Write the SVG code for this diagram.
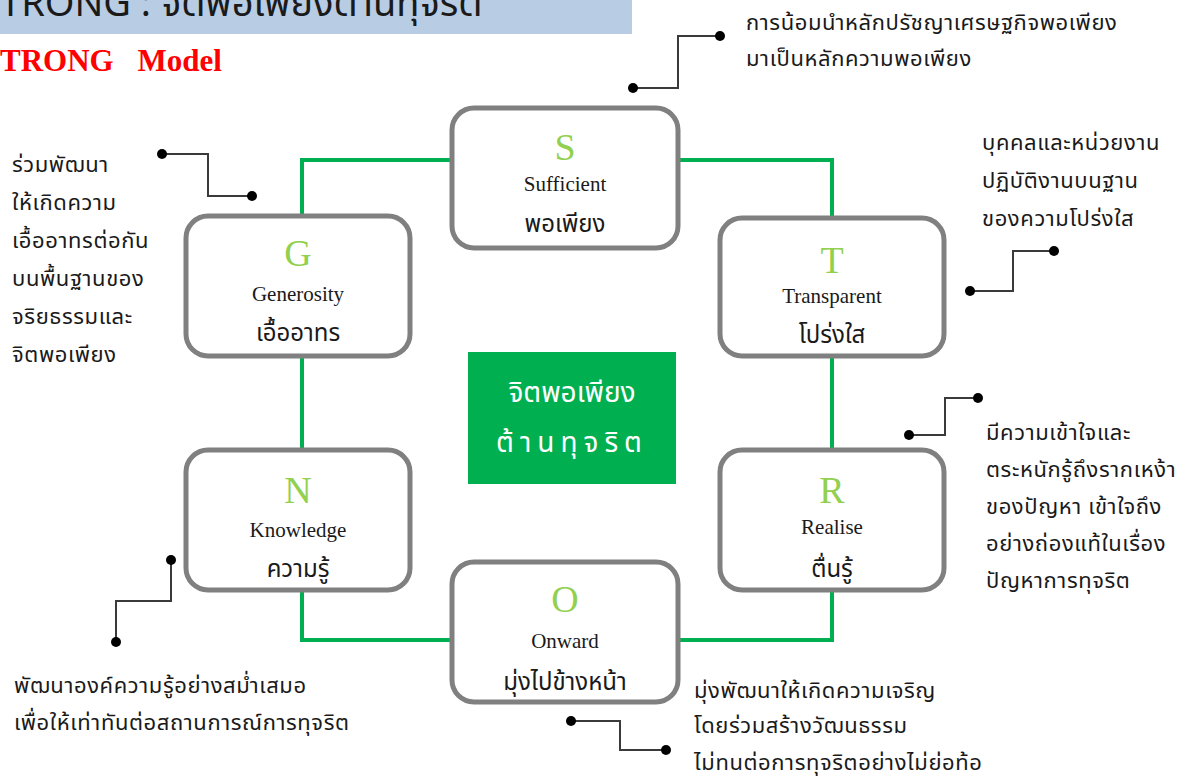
<svg xmlns="http://www.w3.org/2000/svg" width="1192" height="778" viewBox="0 0 1192 778">
<style>
.box{fill:#fff;stroke:#808080;stroke-width:5}
.let{font-family:"Liberation Serif","DejaVu Serif",serif;font-size:38px;fill:#92D050;text-anchor:middle}
.en{font-family:"Liberation Serif","DejaVu Serif",serif;font-size:21px;fill:#1a1a1a;text-anchor:middle}
.th{font-family:"Noto Sans Thai","Noto Sans","DejaVu Sans",sans-serif;font-size:24px;fill:#1a1a1a;text-anchor:middle}
.note{font-family:"Noto Sans Thai","Noto Sans","DejaVu Sans",sans-serif;font-size:22px;letter-spacing:0.6px;fill:#1a1a1a}
.lead{fill:none;stroke:#3a3a3a;stroke-width:2}
.dot{fill:#000}
</style>
<rect x="0" y="0" width="1192" height="778" fill="#fff"/>
<g id="title">
<rect x="0" y="0" width="632" height="34" fill="#B8CCE4"/>
<text x="0" y="16" font-family="Noto Sans Thai, Noto Sans, DejaVu Sans, sans-serif" font-size="38" fill="#1a1a1a">TRONG : จิตพอเพียงต้านทุจริต</text>
<text x="0" y="71" font-family="Liberation Serif, serif" font-size="31" font-weight="bold" fill="#FF0000" word-spacing="16">TRONG Model</text>
</g>
<g id="connectors">
<rect x="302" y="160" width="530" height="480" fill="none" stroke="#00B050" stroke-width="4"/>
<polyline class="lead" points="633,88 678,88 678,36 720,36"/>
<circle class="dot" cx="633" cy="88" r="5"/><circle class="dot" cx="720" cy="36" r="5"/>
<polyline class="lead" points="162,154 208,154 208,196 252,196"/>
<circle class="dot" cx="162" cy="154" r="5"/><circle class="dot" cx="252" cy="196" r="5"/>
<polyline class="lead" points="1054,251 1013,251 1013,291 970,291"/>
<circle class="dot" cx="1054" cy="251" r="5"/><circle class="dot" cx="970" cy="291" r="5"/>
<polyline class="lead" points="978,398 945,398 945,435 909,435"/>
<circle class="dot" cx="978" cy="398" r="5"/><circle class="dot" cx="909" cy="435" r="5"/>
<polyline class="lead" points="171,560 171,601 116,601 116,642"/>
<circle class="dot" cx="171" cy="560" r="5"/><circle class="dot" cx="116" cy="642" r="5"/>
<polyline class="lead" points="571,721 620,721 620,750 666,750"/>
<circle class="dot" cx="571" cy="721" r="5"/><circle class="dot" cx="666" cy="750" r="5"/>
</g>
<g id="center">
<rect x="468" y="352" width="208" height="132" fill="#00B050"/>
<text x="572" y="402" font-family="Noto Sans Thai, Noto Sans, DejaVu Sans, sans-serif" font-size="28" fill="#fff" text-anchor="middle">จิตพอเพียง</text>
<text x="572" y="452" font-family="Noto Sans Thai, Noto Sans, DejaVu Sans, sans-serif" font-size="28" fill="#fff" text-anchor="middle" letter-spacing="6">ต้านทุจริต</text>
</g>
<g id="node-S">
<rect class="box" x="452" y="108" width="226" height="140" rx="22"/>
<text class="let" x="565" y="160">S</text>
<text class="en" x="565" y="191">Sufficient</text>
<text class="th" x="565" y="232">พอเพียง</text>
</g>
<g id="node-G">
<rect class="box" x="186" y="216" width="224" height="140" rx="22"/>
<text class="let" x="298" y="266">G</text>
<text class="en" x="298" y="301">Generosity</text>
<text class="th" x="298" y="341">เอื้ออาทร</text>
</g>
<g id="node-T">
<rect class="box" x="720" y="218" width="224" height="138" rx="22"/>
<text class="let" x="832" y="273">T</text>
<text class="en" x="832" y="303">Transparent</text>
<text class="th" x="832" y="343">โปร่งใส</text>
</g>
<g id="node-N">
<rect class="box" x="186" y="450" width="224" height="140" rx="22"/>
<text class="let" x="298" y="503">N</text>
<text class="en" x="298" y="537">Knowledge</text>
<text class="th" x="298" y="577">ความรู้</text>
</g>
<g id="node-R">
<rect class="box" x="720" y="450" width="224" height="140" rx="22"/>
<text class="let" x="832" y="503">R</text>
<text class="en" x="832" y="534">Realise</text>
<text class="th" x="832" y="577">ตื่นรู้</text>
</g>
<g id="node-O">
<rect class="box" x="452" y="562" width="226" height="140" rx="22"/>
<text class="let" x="565" y="612">O</text>
<text class="en" x="565" y="648">Onward</text>
<text class="th" x="565" y="690">มุ่งไปข้างหน้า</text>
</g>
<g id="notes">
<text class="note" x="746" y="30">การน้อมนำหลักปรัชญาเศรษฐกิจพอเพียง</text>
<text class="note" x="746" y="66">มาเป็นหลักความพอเพียง</text>
<text class="note" x="12" y="172">ร่วมพัฒนา</text>
<text class="note" x="12" y="210">ให้เกิดความ</text>
<text class="note" x="12" y="248">เอื้ออาทรต่อกัน</text>
<text class="note" x="12" y="286">บนพื้นฐานของ</text>
<text class="note" x="12" y="324">จริยธรรมและ</text>
<text class="note" x="12" y="362">จิตพอเพียง</text>
<text class="note" x="982" y="150">บุคคลและหน่วยงาน</text>
<text class="note" x="982" y="188">ปฏิบัติงานบนฐาน</text>
<text class="note" x="982" y="226">ของความโปร่งใส</text>
<text class="note" x="986" y="440">มีความเข้าใจและ</text>
<text class="note" x="986" y="477">ตระหนักรู้ถึงรากเหง้า</text>
<text class="note" x="986" y="514">ของปัญหา เข้าใจถึง</text>
<text class="note" x="986" y="551">อย่างถ่องแท้ในเรื่อง</text>
<text class="note" x="986" y="588">ปัญหาการทุจริต</text>
<text class="note" x="14" y="693">พัฒนาองค์ความรู้อย่างสม่ำเสมอ</text>
<text class="note" x="14" y="730">เพื่อให้เท่าทันต่อสถานการณ์การทุจริต</text>
<text class="note" x="694" y="698">มุ่งพัฒนาให้เกิดความเจริญ</text>
<text class="note" x="694" y="733">โดยร่วมสร้างวัฒนธรรม</text>
<text class="note" x="694" y="770">ไม่ทนต่อการทุจริตอย่างไม่ย่อท้อ</text>
</g>
</svg>
